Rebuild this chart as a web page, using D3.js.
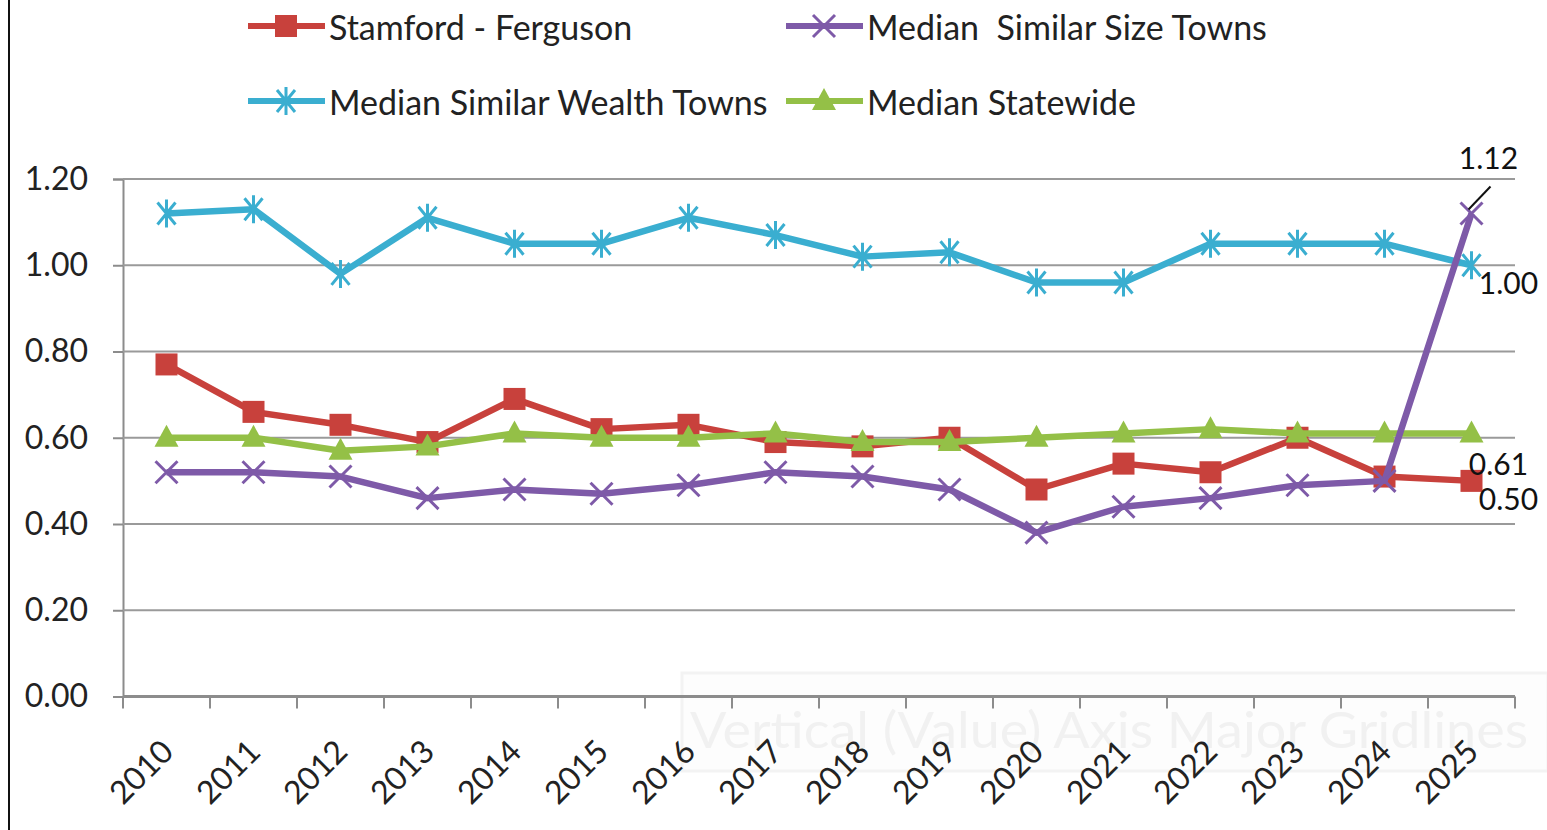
<!DOCTYPE html>
<html>
<head>
<meta charset="utf-8">
<script src="https://cdn.jsdelivr.net/npm/d3@7"></script>
<style>
  body { margin: 0; background: #fff; }
  svg { display: block; font-family: Lato, "Noto Sans", sans-serif; }
</style>
</head>
<body>
<svg id="chart" width="1547" height="830"></svg>
<script>
const years = ["2010", "2011", "2012", "2013", "2014", "2015", "2016", "2017",
    "2018", "2019", "2020", "2021", "2022", "2023", "2024", "2025"];
const stamford = [0.77, 0.66, 0.63, 0.59, 0.69, 0.62, 0.63, 0.59, 0.58, 0.60, 0.48, 0.54, 0.52, 0.60, 0.51, 0.50];
const similarSize = [0.52, 0.52, 0.51, 0.46, 0.48, 0.47, 0.49, 0.52, 0.51, 0.48, 0.38, 0.44, 0.46, 0.49, 0.50, 1.12];
const similarWealth = [1.12, 1.13, 0.98, 1.11, 1.05, 1.05, 1.11, 1.07, 1.02, 1.03, 0.96, 0.96, 1.05, 1.05, 1.05, 1.00];
const statewide = [0.60, 0.60, 0.57, 0.58, 0.61, 0.60, 0.60, 0.61, 0.59, 0.59, 0.60, 0.61, 0.62, 0.61, 0.61, 0.61];
const seriesNames = ["Stamford - Ferguson", "Median  Similar Size Towns", "Median Similar Wealth Towns", "Median Statewide"];
const yTicks = [0, 0.2, 0.4, 0.6, 0.8, 1.0, 1.2];

const svg = d3.select("#chart");
const margin = { top: 179, left: 123, right: 32, bottom: 133 };
const width = +svg.attr("width");
const height = +svg.attr("height");

const series = [
    { name: seriesNames[0], values: stamford, color: "#c8413c", marker: "square" },
    { name: seriesNames[1], values: similarSize, color: "#7e5aa8", marker: "x" },
    { name: seriesNames[2], values: similarWealth, color: "#3aaed0", marker: "star" },
    { name: seriesNames[3], values: statewide, color: "#94c047", marker: "triangle" }
];

const x = d3.scaleBand().domain(years).range([margin.left, width - margin.right]);
const y = d3.scaleLinear().domain([0, 1.2]).range([height - margin.bottom - 0.5, margin.top]);
const cx = d => x(d) + x.bandwidth() / 2;

// left border of the pasted chart
svg.append("line")
    .attr("x1", 9).attr("x2", 9).attr("y1", 0).attr("y2", height)
    .attr("stroke", "#111").attr("stroke-width", 2);

// faint excel tooltip left in the screenshot
const tip = svg.append("g");
tip.append("rect")
    .attr("x", 682).attr("y", 673).attr("width", 866).attr("height", 98)
    .attr("fill", "#fdfdfd").attr("stroke", "#f3f3f3").attr("stroke-width", 3);
tip.append("text")
    .attr("x", 690).attr("y", 748)
    .attr("textLength", 838).attr("lengthAdjust", "spacingAndGlyphs")
    .attr("font-size", 50).attr("fill", "#f1f1f1")
    .text("Vertical (Value) Axis Major Gridlines");

// gridlines + y axis
const yAxis = d3.axisLeft(y).tickValues(yTicks).tickSize(10).tickFormat(d3.format(".2f"));
const yg = svg.append("g").attr("transform", `translate(${margin.left},0)`).call(yAxis);
yg.select(".domain").attr("stroke", "#8c8c8c").attr("stroke-width", 2);
yg.selectAll(".tick line").attr("stroke", "#8c8c8c").attr("stroke-width", 2);
yg.selectAll(".tick text").attr("font-size", 32).attr("fill", "#222").attr("x", -35)
    .attr("font-family", "Lato, sans-serif");

svg.append("g").selectAll("line").data(yTicks.filter(d => d > 0))
    .join("line")
    .attr("x1", margin.left).attr("x2", width - margin.right)
    .attr("y1", d => y(d)).attr("y2", d => y(d))
    .attr("stroke", "#9a9a9a").attr("stroke-width", 2);

// x axis
const xg = svg.append("g").attr("transform", `translate(0,${y(0)})`);
xg.append("line")
    .attr("x1", margin.left).attr("x2", width - margin.right)
    .attr("stroke", "#8c8c8c").attr("stroke-width", 3);
xg.selectAll("line.tk").data(years.concat(["end"]))
    .join("line").attr("class", "tk")
    .attr("x1", (d, i) => i < years.length ? x(d) : x(years[years.length - 1]) + x.bandwidth())
    .attr("x2", (d, i) => i < years.length ? x(d) : x(years[years.length - 1]) + x.bandwidth())
    .attr("y1", 0).attr("y2", 12)
    .attr("stroke", "#8c8c8c").attr("stroke-width", 2);
xg.selectAll("text").data(years)
    .join("text")
    .attr("transform", d => `translate(${cx(d) + 9},${57}) rotate(-45)`)
    .attr("text-anchor", "end")
    .attr("font-size", 32).attr("fill", "#222")
    .text(d => d);

// marker drawing
function drawMarker(g, type, color) {
    if (type === "square") {
        g.append("rect").attr("x", -11).attr("y", -11).attr("width", 22).attr("height", 22)
            .attr("fill", color);
    } else if (type === "triangle") {
        g.append("path").attr("d", "M0,-13L12,9L-12,9Z").attr("fill", color);
    } else if (type === "x") {
        g.append("path").attr("d", "M-11,-11L11,11M-11,11L11,-11")
            .attr("stroke", color).attr("stroke-width", 3);
    } else if (type === "star") {
        g.append("path").attr("d", "M-9,-11L9,11M-9,11L9,-11M0,-14L0,14")
            .attr("stroke", color).attr("stroke-width", 3);
    }
}

const line = d3.line().x((d, i) => cx(years[i])).y(d => y(d));

// draw order: wealth behind, then the rest
const drawOrder = [2, 0, 3, 1];
drawOrder.forEach(k => {
    const s = series[k];
    const g = svg.append("g");
    g.append("path").datum(s.values)
        .attr("fill", "none").attr("stroke", s.color)
        .attr("stroke-width", 6.5).attr("stroke-linejoin", "round")
        .attr("d", line);
    s.values.forEach((v, i) => {
        const m = g.append("g").attr("transform", `translate(${cx(years[i])},${y(v)})`);
        drawMarker(m, s.marker, s.color);
    });
});

// end labels
const endLabels = [
    { s: 1, dx: 17, dy: -57 },
    { s: 2, dx: 37, dy: 17 },
    { s: 3, dx: 27, dy: 30 },
    { s: 0, dx: 37, dy: 17 }
];
const last = years.length - 1;
endLabels.forEach(l => {
    const v = series[l.s].values[last];
    svg.append("text")
        .attr("x", cx(years[last]) + l.dx).attr("y", y(v) + l.dy)
        .attr("text-anchor", "middle").attr("dominant-baseline", "central")
        .attr("font-size", 30).attr("fill", "#111")
        .text(v.toFixed(2));
});
// leader line for the 1.12 label
svg.append("line")
    .attr("x1", cx(years[last]) - 3).attr("y1", y(similarSize[last]) - 4)
    .attr("x2", cx(years[last]) + 19).attr("y2", y(similarSize[last]) - 27)
    .attr("stroke", "#111").attr("stroke-width", 2);

// legend
const legendItems = [
    { s: 0, x: 248, y: 26 },
    { s: 1, x: 786, y: 26 },
    { s: 2, x: 248, y: 101 },
    { s: 3, x: 786, y: 101 }
];
legendItems.forEach(it => {
    const s = series[it.s];
    const g = svg.append("g").attr("transform", `translate(${it.x},${it.y})`);
    g.append("line").attr("x1", 0).attr("x2", 77)
        .attr("stroke", s.color).attr("stroke-width", 6);
    drawMarker(g.append("g").attr("transform", "translate(38,0)"), s.marker, s.color);
    g.append("text").attr("x", 81).attr("dominant-baseline", "central")
        .attr("font-size", 34).attr("fill", "#222")
        .style("white-space", "pre")
        .text(s.name);
});
</script>
</body>
</html>
